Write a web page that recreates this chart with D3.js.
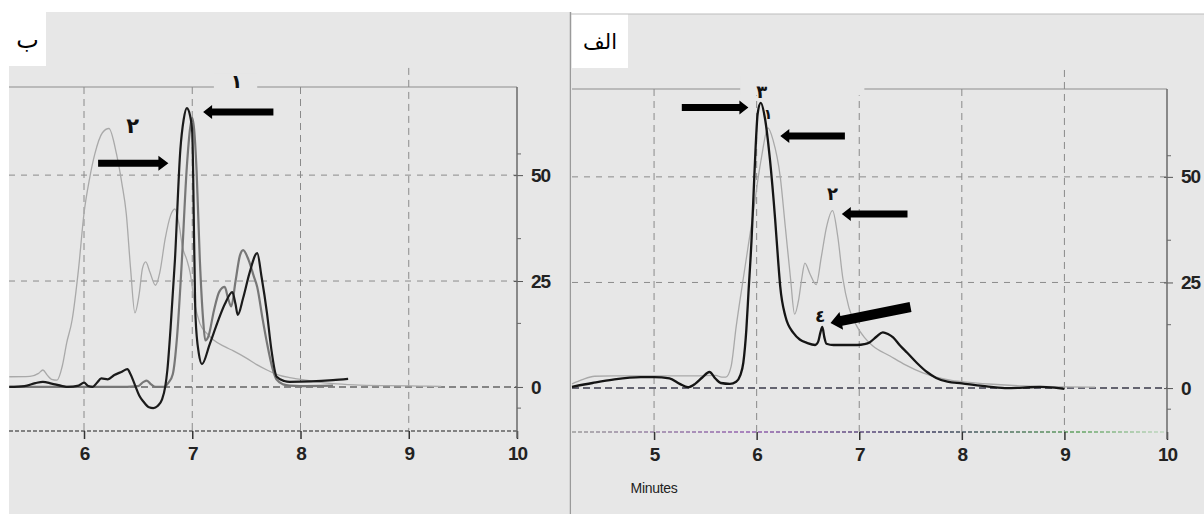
<!DOCTYPE html>
<html>
<head>
<meta charset="utf-8">
<script src="https://cdn.jsdelivr.net/npm/d3@7"></script>
<style>
  body { margin: 0; background: #fff; }
  svg { display: block; }
</style>
</head>
<body>
<div id="chart"></div>
<script>
// ---- data (time in minutes, signal) ----
var leftTicks = [6, 7, 8, 9, 10];
var rightTicks = [5, 6, 7, 8, 9, 10];
var valueTicks = [0, 25, 50];
var minorValueTicks = [-5, 15, 35, 55];

// panel "ب" (left)
var bLight = [[5.31,2.4],[5.5,2.5],[5.58,3.2],[5.62,4.0],[5.66,2.8],[5.7,1.8],[5.75,1.6],[5.8,5],[5.84,10.4],[5.89,15.8],[5.95,28],[6.0,41],[6.05,49],[6.1,55],[6.17,60],[6.23,61],[6.3,55],[6.35,48],[6.39,41],[6.43,28],[6.47,17.5],[6.51,22],[6.54,28],[6.57,29.5],[6.61,27],[6.66,24],[6.7,27],[6.75,35],[6.8,40.5],[6.84,42],[6.88,38],[6.91,33],[6.95,30],[6.98,27],[7.02,20],[7.07,15],[7.14,12.5],[7.2,11],[7.3,9.5],[7.38,8.5],[7.5,6.8],[7.6,5.2],[7.69,4],[7.8,2.8],[7.9,2.2],[8.0,1.8],[8.15,1.2],[8.3,0.8],[8.5,0.5],[8.8,0.3],[9.1,0.2],[9.3,0.1]];
var bGray = [[5.31,0],[5.9,0],[6.3,0],[6.5,0.2],[6.55,1.2],[6.58,1.5],[6.62,0.6],[6.66,0],[6.74,0],[6.78,1],[6.82,3],[6.86,12],[6.9,28],[6.95,52],[6.98,61],[7.0,63.5],[7.02,60],[7.04,51],[7.07,30],[7.1,16],[7.12,11],[7.15,12],[7.2,18],[7.25,22.5],[7.3,23.6],[7.33,21],[7.36,19],[7.4,25],[7.44,31],[7.47,32.3],[7.52,30],[7.57,26],[7.6,23.6],[7.65,16],[7.69,10.4],[7.74,4.5],[7.78,1.7],[7.84,0.6],[7.9,0.3],[8.0,0.2],[8.3,0.3]];
var bBlack = [[5.31,0],[5.45,0.2],[5.55,0.9],[5.62,1.2],[5.7,0.8],[5.8,0.2],[5.85,0],[5.95,0.3],[6.0,1],[6.04,0.2],[6.08,0],[6.12,1],[6.16,2],[6.22,1.8],[6.28,2.8],[6.35,3.6],[6.4,4.2],[6.43,3],[6.47,0.5],[6.51,-2],[6.55,-3.5],[6.6,-4.8],[6.64,-5],[6.68,-4.5],[6.72,-3],[6.75,0],[6.77,4],[6.8,14],[6.84,30],[6.89,56],[6.92,63],[6.95,65.8],[6.98,64],[7.0,60],[7.02,30],[7.03,16.5],[7.06,8],[7.09,5.4],[7.16,10],[7.23,15],[7.3,19.5],[7.37,22.4],[7.4,19.5],[7.42,17],[7.47,21],[7.53,27],[7.6,31.6],[7.64,26],[7.69,17.5],[7.73,9],[7.78,2.4],[7.85,1.4],[7.9,1.2],[8.1,1.3],[8.3,1.6],[8.44,1.9]];

// panel "الف" (right)
var aLight = [[4.2,1.0],[4.3,2.0],[4.42,2.8],[4.6,2.9],[5.0,2.9],[5.4,2.9],[5.6,3.0],[5.66,2.6],[5.7,2.6],[5.75,5],[5.8,14.5],[5.87,26],[5.92,34],[5.97,42],[6.01,49],[6.05,55],[6.11,61.6],[6.16,58.7],[6.23,50],[6.28,38],[6.33,26],[6.37,17.5],[6.41,21],[6.44,26],[6.47,29.6],[6.52,27],[6.58,24.5],[6.63,31],[6.68,38],[6.74,42],[6.79,36],[6.84,26],[6.9,19],[6.98,14.5],[7.05,12],[7.13,10],[7.3,7.6],[7.45,5.5],[7.62,3.6],[7.75,2.6],[7.9,1.8],[8.1,1.3],[8.3,0.9],[8.6,0.5],[9.0,0.3],[9.3,0.2]];
var aBlack = [[4.2,0.3],[4.4,1.2],[4.6,2.0],[4.87,2.6],[5.0,2.6],[5.15,2.3],[5.25,1.0],[5.33,0.2],[5.4,1.0],[5.47,2.5],[5.54,3.8],[5.6,2.2],[5.65,1.2],[5.74,1.0],[5.8,1.5],[5.84,3],[5.87,6],[5.9,14],[5.92,22.5],[5.95,35],[5.97,46],[5.99,57],[6.01,65],[6.04,67.5],[6.08,64],[6.13,54],[6.18,40],[6.21,30],[6.23,24],[6.28,17],[6.36,13],[6.42,11.5],[6.49,10.7],[6.57,10.2],[6.6,11],[6.62,13],[6.64,14.5],[6.66,12],[6.68,10.5],[6.75,10.2],[6.9,10.2],[6.98,10.2],[7.05,10.4],[7.1,10.8],[7.17,12.2],[7.23,13.2],[7.28,12.8],[7.33,12],[7.4,10],[7.47,8.3],[7.56,6],[7.66,3.8],[7.75,2.4],[7.86,1.5],[8.0,1.1],[8.2,0.5],[8.42,0],[8.6,0.1],[8.76,0.3],[8.9,0.1],[9.0,-0.2]];

// annotations: label text at (t, v); arrows from tail to tip
var bLabels = [{text: "١", t: 7.41, v: 72.3, size: 19}, {text: "٢", t: 6.45, v: 61.5, size: 21}];
var bArrows = [{t1: 7.75, v1: 64.9, t2: 7.10, v2: 64.9, w: 3.5, hw: 7, hl: 9},
               {t1: 6.13, v1: 52.8, t2: 6.78, v2: 52.8, w: 3.5, hw: 7.5, hl: 10}];
var bGaps = [{t1: 7.2, t2: 7.6, v1: 68.5, v2: 74}];

var aLabels = [{text: "٣", t: 6.05, v: 70.3, size: 18}, {text: "١", t: 6.11, v: 65.0, size: 14},
               {text: "٢", t: 6.74, v: 46.0, size: 18}, {text: "٤", t: 6.62, v: 17.0, size: 17}];
var aArrows = [{t1: 5.27, v1: 66.4, t2: 5.92, v2: 66.4, w: 3.5, hw: 7, hl: 9},
               {t1: 6.86, v1: 59.7, t2: 6.23, v2: 59.7, w: 3.5, hw: 7, hl: 9},
               {t1: 7.47, v1: 41.2, t2: 6.83, v2: 41.2, w: 3.5, hw: 7, hl: 9},
               {t1: 7.5, v1: 19.2, t2: 6.72, v2: 15.4, w: 5, hw: 9, hl: 11}];
var aGaps = [{t1: 5.84, t2: 7.05, v1: 69.3, v2: 74}];

var W = 1204, H = 514;
var bg = "#e7e7e7";

var svg = d3.select("#chart").append("svg")
  .attr("width", W).attr("height", H)
  .style("font-family", "'Liberation Sans', Arial, sans-serif");

// colour ramp of the scanned baseline in the right panel
var defs = svg.append("defs");
var grad = defs.append("linearGradient").attr("id", "baseGrad")
  .attr("gradientUnits", "userSpaceOnUse")
  .attr("x1", 572).attr("x2", 1167).attr("y1", 0).attr("y2", 0);
grad.append("stop").attr("offset", "0%").attr("stop-color", "#a0a0a0");
grad.append("stop").attr("offset", "30%").attr("stop-color", "#9a6ab4");
grad.append("stop").attr("offset", "60%").attr("stop-color", "#4a4a6a");
grad.append("stop").attr("offset", "85%").attr("stop-color", "#6aa86a");
grad.append("stop").attr("offset", "100%").attr("stop-color", "#c8dcc8");

function arrowPath(x1, y1, x2, y2, w, hw, hl) {
  var dx = x2 - x1, dy = y2 - y1, len = Math.sqrt(dx * dx + dy * dy);
  var ux = dx / len, uy = dy / len, nx = -uy, ny = ux;
  var bx = x2 - ux * hl, by = y2 - uy * hl;
  var p = [
    [x1 + nx * w, y1 + ny * w], [bx + nx * w, by + ny * w], [bx + nx * hw, by + ny * hw],
    [x2, y2],
    [bx - nx * hw, by - ny * hw], [bx - nx * w, by - ny * w], [x1 - nx * w, y1 - ny * w]
  ];
  return "M" + p.map(function(d) { return d[0].toFixed(1) + "," + d[1].toFixed(1); }).join("L") + "Z";
}

function drawPanel(cfg) {
  var g = svg.append("g");
  var x = d3.scaleLinear().domain(cfg.tDomain).range([cfg.left, cfg.axisX]);
  var y = d3.scaleLinear().domain([-10.4, 70.8]).range([cfg.bottom, cfg.top]);

  g.append("rect").attr("x", cfg.left).attr("y", cfg.panelTop)
    .attr("width", cfg.right - cfg.left).attr("height", H - cfg.panelTop).attr("fill", bg);

  // top frame line
  g.append("line").attr("x1", cfg.left).attr("x2", x(10))
    .attr("y1", y(70.8)).attr("y2", y(70.8))
    .attr("stroke", "#8e8e8e").attr("stroke-width", 1.2);

  // vertical dashed grid
  var vgrid = cfg.ticks.filter(function(t) { return t < 10; });
  g.selectAll(".vg").data(vgrid).enter().append("line")
    .attr("x1", function(d) { return x(d); }).attr("x2", function(d) { return x(d); })
    .attr("y1", function(d) { return d === 9 ? y(75.3) : y(70.8); })
    .attr("y2", y(-10.4))
    .attr("stroke", "#8a8a8a").attr("stroke-width", 1).attr("stroke-dasharray", "7,5");

  // horizontal dashed grid at 25 / 50
  g.selectAll(".hg").data([25, 50]).enter().append("line")
    .attr("x1", cfg.left).attr("x2", x(10))
    .attr("y1", function(d) { return y(d); }).attr("y2", function(d) { return y(d); })
    .attr("stroke", "#8c8c8c").attr("stroke-width", 1).attr("stroke-dasharray", "6,6");

  // zero line
  g.append("line").attr("x1", cfg.left).attr("x2", x(10))
    .attr("y1", y(0)).attr("y2", y(0))
    .attr("stroke", cfg.zeroColor).attr("stroke-width", 1.6).attr("stroke-dasharray", "7,4");

  // bottom (time) axis line, dotted
  g.append("line").attr("x1", cfg.left).attr("x2", x(10))
    .attr("y1", y(-10.4)).attr("y2", y(-10.4))
    .attr("stroke", cfg.baseStroke).attr("stroke-width", 1.8).attr("stroke-dasharray", "4,2")
    .attr("opacity", 0.8);

  var bottomAxis = d3.axisBottom(x).tickValues(cfg.ticks).tickSize(8).tickPadding(8)
    .tickFormat(d3.format("d"));
  var ax = g.append("g").attr("transform", "translate(0," + y(-10.4) + ")").call(bottomAxis);
  ax.select(".domain").remove();
  ax.selectAll(".tick line").attr("stroke", "#333").attr("stroke-width", 1.5);
  ax.selectAll(".tick text")
    .attr("font-size", 19).attr("font-weight", "bold").attr("fill", "#222")
    .attr("letter-spacing", "-1px").attr("dy", "0.71em");

  // right value axis
  var rightAxis = d3.axisRight(y).tickValues(valueTicks).tickSize(6).tickPadding(8)
    .tickFormat(d3.format("d"));
  var ay = g.append("g").attr("transform", "translate(" + x(10) + ",0)").call(rightAxis);
  ay.select(".domain").remove();
  ay.selectAll(".tick line").attr("stroke", "#555").attr("x1", -3);
  ay.selectAll(".tick text")
    .attr("font-size", 19).attr("font-weight", "bold").attr("fill", "#222")
    .attr("letter-spacing", "-1px");
  g.selectAll(".mt").data(minorValueTicks).enter().append("line")
    .attr("x1", x(10)).attr("x2", x(10) + 4)
    .attr("y1", function(d) { return y(d); }).attr("y2", function(d) { return y(d); })
    .attr("stroke", "#666");
  g.append("line").attr("x1", x(10)).attr("x2", x(10))
    .attr("y1", y(70.8)).attr("y2", y(-10.4) + 7)
    .attr("stroke", "#6a6a6a").attr("stroke-width", 1.5);

  // traces
  var line = d3.line()
    .x(function(d) { return x(d[0]); })
    .y(function(d) { return y(d[1]); })
    .curve(d3.curveMonotoneX);
  cfg.series.forEach(function(s) {
    g.append("path").datum(s.data)
      .attr("d", line)
      .attr("fill", "none")
      .attr("stroke", s.color)
      .attr("stroke-width", s.width)
      .attr("stroke-linejoin", "round");
  });

  // gaps behind annotation labels
  g.selectAll(".gap").data(cfg.gaps).enter().append("rect")
    .attr("x", function(d) { return x(d.t1); })
    .attr("width", function(d) { return x(d.t2) - x(d.t1); })
    .attr("y", function(d) { return y(d.v2); })
    .attr("height", function(d) { return y(d.v1) - y(d.v2); })
    .attr("fill", bg);

  g.selectAll(".arr").data(cfg.arrows).enter().append("path")
    .attr("d", function(d) { return arrowPath(x(d.t1), y(d.v1), x(d.t2), y(d.v2), d.w, d.hw, d.hl); })
    .attr("fill", "#000");

  g.selectAll(".lab").data(cfg.labels).enter().append("text")
    .attr("x", function(d) { return x(d.t); })
    .attr("y", function(d) { return y(d.v); })
    .attr("text-anchor", "middle")
    .attr("dominant-baseline", "central")
    .attr("font-family", "'DejaVu Sans', sans-serif")
    .attr("font-weight", "bold")
    .attr("font-size", function(d) { return d.size; })
    .attr("fill", "#111")
    .text(function(d) { return d.text; });

  // panel name box
  g.append("rect").attr("x", cfg.left).attr("y", cfg.panelTop)
    .attr("width", cfg.nameW).attr("height", 54).attr("fill", "#fff");
  g.append("text")
    .attr("x", cfg.left + cfg.nameW / 2).attr("y", cfg.panelTop + 28)
    .attr("text-anchor", "middle").attr("dominant-baseline", "central")
    .attr("font-family", "'DejaVu Sans', sans-serif")
    .attr("font-size", cfg.nameSize).attr("fill", "#000")
    .text(cfg.name);

  return {x: x, y: y, g: g};
}

drawPanel({
  name: "ب", nameW: 37, nameSize: 24,
  left: 9, right: 570, axisX: 517, panelTop: 12, top: 87, bottom: 431,
  tDomain: [5.307, 10], ticks: leftTicks,
  zeroColor: "#666", baseStroke: "#6a6a6a",
  series: [
    {data: bLight, color: "#a9a9a9", width: 1.3},
    {data: bGray, color: "#777", width: 2.2},
    {data: bBlack, color: "#1b1b1b", width: 2.2}
  ],
  labels: bLabels, arrows: bArrows, gaps: bGaps
});

var right = drawPanel({
  name: "الف", nameW: 56, nameSize: 21,
  left: 572, right: W, axisX: 1167, panelTop: 14, top: 89, bottom: 432,
  tDomain: [4.2, 10], ticks: rightTicks,
  zeroColor: "#3a3a4a", baseStroke: "url(#baseGrad)",
  series: [
    {data: aLight, color: "#a9a9a9", width: 1.3},
    {data: aBlack, color: "#151515", width: 2.3}
  ],
  labels: aLabels, arrows: aArrows, gaps: aGaps
});

right.g.append("text")
  .attr("x", right.x(5)).attr("y", 488)
  .attr("text-anchor", "middle").attr("dominant-baseline", "central")
  .attr("font-size", 14).attr("fill", "#222").attr("letter-spacing", "-0.3px")
  .text("Minutes");

// separator between the two panels and top edge of the right one
svg.append("line").attr("x1", 570.5).attr("x2", 570.5).attr("y1", 12).attr("y2", H)
  .attr("stroke", "#9a9a9a").attr("stroke-width", 1.5);
svg.append("line").attr("x1", 571).attr("x2", W).attr("y1", 14).attr("y2", 14)
  .attr("stroke", "#bdbdbd").attr("stroke-width", 1);
</script>
</body>
</html>
